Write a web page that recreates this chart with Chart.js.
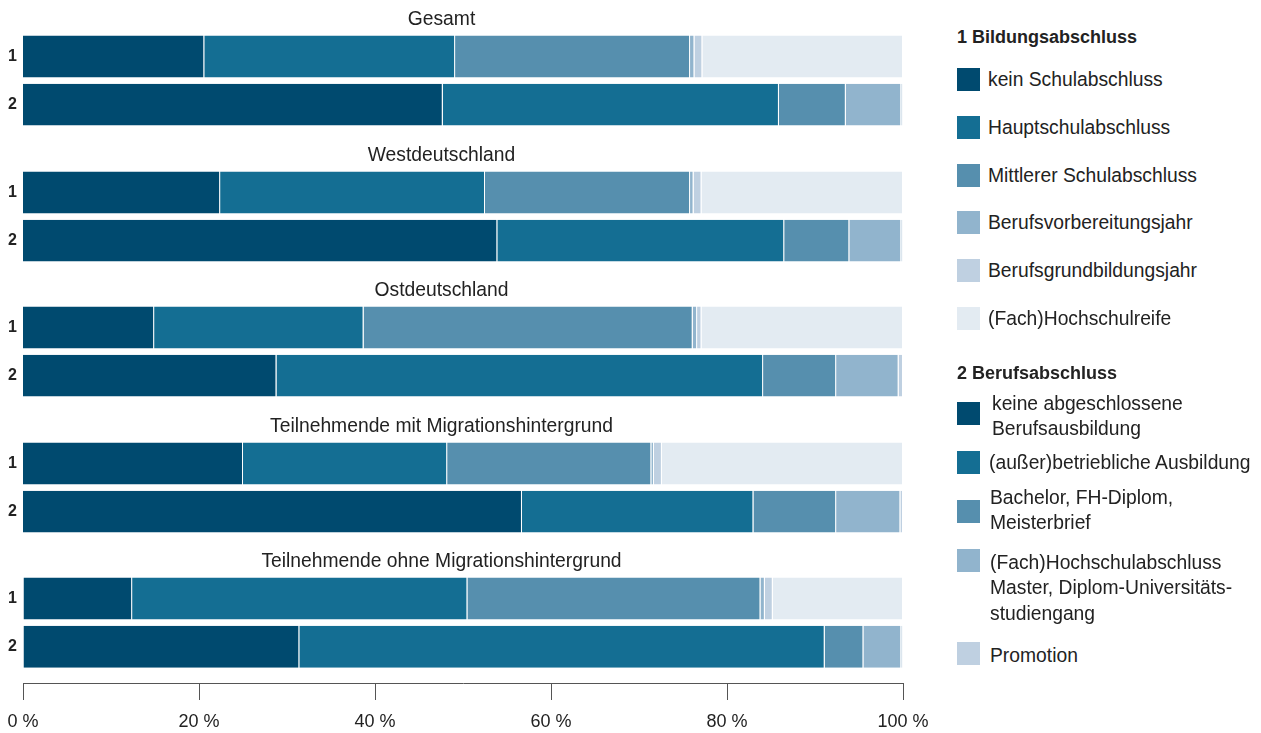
<!DOCTYPE html>
<html lang="de">
<head>
<meta charset="utf-8">
<title>Bildungs- und Berufsabschlüsse</title>
<script src="https://cdn.jsdelivr.net/npm/chart.js@4/dist/chart.umd.min.js"></script>
<style>
  html, body { margin: 0; padding: 0; background: #fff; }
  #stage { position: relative; width: 1261px; height: 733px; overflow: hidden;
           font-family: "Liberation Sans", Arial, sans-serif; color: #222; }
  .panel { position: absolute; left: -20px; }
  .legend-head { position: absolute; left: 957px; font-weight: bold; font-size: 18px;
                 line-height: 22px; white-space: nowrap; color: #222; }
  .sw { position: absolute; left: 957px; width: 23px; height: 23px; }
  .lt { position: absolute; font-size: 19.3px; line-height: 25.5px; white-space: pre; color: #222; }
</style>
</head>
<body>
<div id="stage"></div>
<script>
// ---- data -------------------------------------------------------------
const groups = [
  'Gesamt',
  'Westdeutschland',
  'Ostdeutschland',
  'Teilnehmende mit Migrationshintergrund',
  'Teilnehmende ohne Migrationshintergrund'
];
const rowLabels = ['1', '2'];
const tickValues = [0, 20, 40, 60, 80, 100];
const tickLabels = ['0 %', '20 %', '40 %', '60 %', '80 %', '100 %'];

const schulTitle = '1 Bildungsabschluss';
const schulLabels = [
  'kein Schulabschluss',
  'Hauptschulabschluss',
  'Mittlerer Schulabschluss',
  'Berufsvorbereitungsjahr',
  'Berufsgrundbildungsjahr',
  '(Fach)Hochschulreife'
];
const berufTitle = '2 Berufsabschluss';
const berufLabels = [
  'keine abgeschlossene\nBerufsausbildung',
  '(außer)betriebliche Ausbildung',
  'Bachelor, FH-Diplom,\nMeisterbrief',
  '(Fach)Hochschulabschluss\nMaster, Diplom-Universitäts-\nstudiengang',
  'Promotion'
];

// shares in percent, one value per group (order as in `groups`)
const keinSchulabschluss      = [20.6, 22.4, 14.9, 25.0, 12.4];
const hauptschulabschluss     = [28.5, 30.1, 23.8, 23.2, 38.1];
const mittlererSchulabschluss = [26.7, 23.3, 37.4, 23.2, 33.3];
const berufsvorbereitungsjahr = [0.5, 0.4, 0.5, 0.3, 0.5];
const berufsgrundbildungsjahr = [0.9, 0.9, 0.5, 0.9, 0.9];
const fachHochschulreife      = [22.8, 22.9, 22.9, 27.4, 14.8];

const keineBerufsausbildung   = [47.7, 53.9, 28.8, 56.7, 31.4];
const betrieblicheAusbildung  = [38.2, 32.6, 55.3, 26.3, 59.7];
const bachelorMeister         = [7.6, 7.4, 8.3, 9.4, 4.4];
const hochschulabschluss      = [6.3, 5.9, 7.1, 7.3, 4.3];
const promotion               = [0.2, 0.2, 0.5, 0.3, 0.2];

// ---- styling ----------------------------------------------------------
const schulColors = ['#004a6f', '#146e93', '#568fae', '#91b4cd', '#bfd0e1', '#e3ebf2'];
const berufColors = ['#004a6f', '#146e93', '#568fae', '#91b4cd', '#bfd0e1'];

const schulSeries = [keinSchulabschluss, hauptschulabschluss, mittlererSchulabschluss,
                     berufsvorbereitungsjahr, berufsgrundbildungsjahr, fachHochschulreife];
const berufSeries = [keineBerufsausbildung, betrieblicheAusbildung, bachelorMeister,
                     hochschulabschluss, promotion];

const sans = '"Liberation Sans", Arial, sans-serif';

// panel geometry: the bar area of each panel starts 31 px below its top;
// panels overlap slightly, their canvases are transparent
const panelTops = [1, 137, 272, 408, 543];
const panelHeights = [144, 144, 144, 144, 202];
const panelWidth = 960;

const stage = document.getElementById('stage');

// ---- one stacked bar panel per group -----------------------------------
groups.forEach((group, gi) => {
  const last = gi === groups.length - 1;
  const wrap = document.createElement('div');
  wrap.className = 'panel';
  wrap.style.top = panelTops[gi] + 'px';
  const canvas = document.createElement('canvas');
  canvas.width = panelWidth;
  canvas.height = panelHeights[gi];
  canvas.style.width = panelWidth + 'px';
  canvas.style.height = panelHeights[gi] + 'px';
  wrap.appendChild(canvas);
  stage.appendChild(wrap);

  const datasets = [];
  schulSeries.forEach((series, si) => {
    datasets.push({ label: schulLabels[si], data: [{ x: series[gi], y: 0 }],
                    backgroundColor: schulColors[si] });
  });
  berufSeries.forEach((series, si) => {
    datasets.push({ label: berufLabels[si], data: [{ x: series[gi], y: 1 }],
                    backgroundColor: berufColors[si] });
  });

  new Chart(canvas, {
    type: 'bar',
    data: { datasets },
    options: {
      indexAxis: 'y',
      responsive: false,
      animation: false,
      devicePixelRatio: 1,
      layout: { padding: { left: 0, right: 37, top: 0, bottom: last ? 1.4 : 16.4 } },
      datasets: {
        bar: {
          categoryPercentage: 1,
          barPercentage: 0.87,
          borderColor: '#ffffff',
          borderWidth: { top: 0, right: 1, bottom: 0, left: 0 },
          borderSkipped: false
        }
      },
      plugins: {
        legend: { display: false },
        tooltip: { enabled: false },
        title: {
          display: true,
          text: group,
          color: '#222',
          font: { family: sans, size: 19.3, weight: 'normal' },
          padding: { top: 6.8, bottom: 1.45 }
        }
      },
      scales: {
        x: {
          type: 'linear',
          stacked: true,
          min: 0,
          max: 100,
          display: last,
          afterBuildTicks: (scale) => { scale.ticks = tickValues.map(v => ({ value: v })); },
          ticks: {
            callback: (value, index) => tickLabels[index],
            color: '#222',
            font: { family: sans, size: 18 },
            padding: 11,
            maxRotation: 0
          },
          grid: { drawOnChartArea: false, drawTicks: true, tickLength: 17, color: '#555', lineWidth: 1 },
          border: { display: true, color: '#555', width: 1 }
        },
        y: {
          type: 'linear',
          stacked: true,
          reverse: true,
          offset: false,
          min: -0.5,
          max: last ? 1.75 : 1.5,
          afterBuildTicks: (scale) => { scale.ticks = rowLabels.map((_, i) => ({ value: i })); },
          afterFit: (scale) => { scale.width = 43; },
          ticks: {
            callback: (value, index) => rowLabels[index],
            color: '#222',
            font: { family: sans, size: 16, weight: 'bold' },
            padding: 6
          },
          grid: { display: false, drawTicks: false },
          border: { display: false }
        }
      }
    }
  });
});

// ---- legend --------------------------------------------------------------
function addHead(text, centerY) {
  const d = document.createElement('div');
  d.className = 'legend-head';
  d.textContent = text;
  d.style.top = (centerY - 11) + 'px';
  stage.appendChild(d);
}
function addItem(text, color, swatchTop, textCenter, textLeft) {
  const s = document.createElement('div');
  s.className = 'sw';
  s.style.top = swatchTop + 'px';
  s.style.background = color;
  stage.appendChild(s);
  const t = document.createElement('div');
  t.className = 'lt';
  t.textContent = text;
  t.style.left = textLeft + 'px';
  t.style.top = (textCenter - 12.5) + 'px';
  stage.appendChild(t);
}

addHead(schulTitle, 37);
schulLabels.forEach((label, i) => {
  const top = 68 + i * 47.75;
  addItem(label, schulColors[i], top, top + 11.5, 988);
});

addHead(berufTitle, 373);
const berufSwatchTops = [402, 451, 500, 548.5, 642];
const berufTextCenters = [403, 462, 497, 562, 655];
const berufTextLefts = [992, 989, 990, 990, 990];
berufLabels.forEach((label, i) => {
  addItem(label, berufColors[i], berufSwatchTops[i], berufTextCenters[i], berufTextLefts[i]);
});
</script>
</body>
</html>
